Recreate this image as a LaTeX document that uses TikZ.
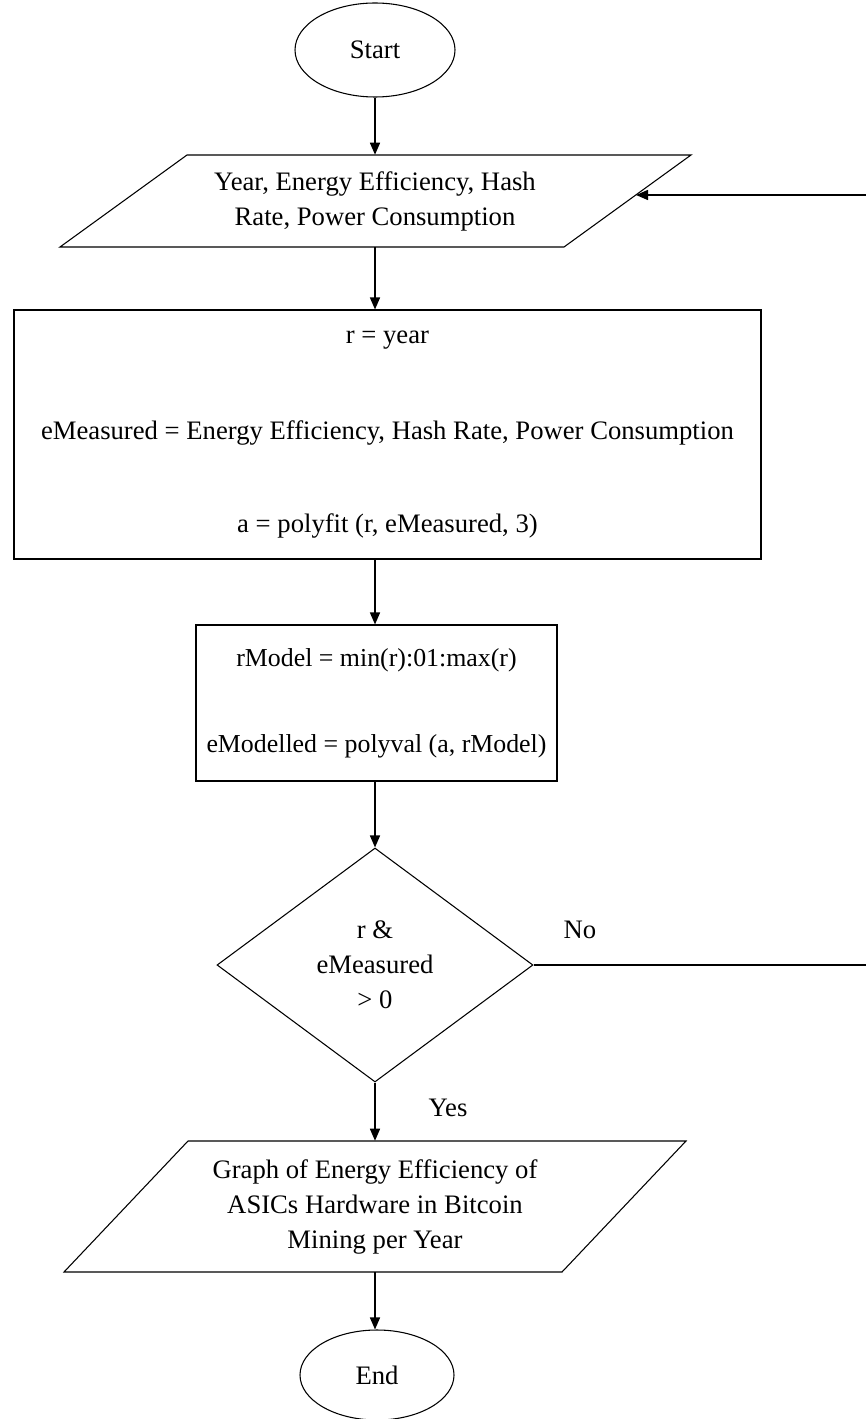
\documentclass[tikz,border=0pt]{standalone}
\usepackage{fontspec}
\setmainfont{Liberation Serif}
\usetikzlibrary{shapes.geometric,arrows.meta,calc}
\begin{document}
\begin{tikzpicture}[x=0.75pt,y=-0.75pt,
  every node/.style={font=\fontsize{20}{26.25}\selectfont, inner sep=0pt},
  shapeline/.style={draw, line width=0.8pt},
  flow/.style={line width=1.1pt, -{Triangle[length=9pt,width=7.5pt]}}]
\useasboundingbox (0,0) rectangle (866,1419);

% Start
\node[shapeline, ellipse, minimum width=120pt, minimum height=70.5pt] (start) at (375,50) {Start};

% Input parallelogram
\node[align=center, minimum height=69pt] (in1) at (375,201) {Year, Energy Efficiency, Hash\\Rate, Power Consumption};
\draw[shapeline] (187,155) -- (691,155) -- (564,247) -- (60,247) -- cycle;

% Process box 1
\node[shapeline, align=center, minimum width=560.25pt, minimum height=186.75pt] (box1) at (387.5,434.5)
  {r = year\\[46pt]eMeasured = Energy Efficiency, Hash Rate, Power Consumption\\[43.75pt]a = polyfit (r, eMeasured, 3)};

% Process box 2
\node[shapeline, align=center, minimum width=270.75pt, minimum height=117pt,
  font=\fontsize{19.4}{26.25}\selectfont] (box2) at (376.5,703)
  {rModel = min(r):01:max(r)\\[38.5pt]eModelled = polyval (a, rModel)};

% Decision
\node[shapeline, diamond, align=center, minimum width=237pt, minimum height=175.5pt] (dec) at (375,965)
  {r \&\\eMeasured\\{>} 0};

% Output parallelogram
\node[align=center, minimum height=98.25pt] (out) at (375,1206.5)
  {Graph of Energy Efficiency of\\ASICs Hardware in Bitcoin\\Mining per Year};
\draw[shapeline] (188,1141) -- (686,1141) -- (562,1272) -- (64,1272) -- cycle;

% End
\node[shapeline, ellipse, minimum width=115.5pt, minimum height=67.5pt] (end) at (377,1375) {End};

% Labels
\node (no) at (580,930) {No};
\node (yes) at (448,1108) {Yes};

% Loop coordinates
\coordinate (c1) at (870,965);
\coordinate (c2) at (870,195);
\coordinate (entry) at (636,195);

% Connectors
\draw[flow] (start) -- (in1);
\draw[flow] (in1.south) -- (in1.south |- box1.north);
\draw[flow] (in1.south |- box1.south) -- (in1.south |- box2.north);
\draw[flow] (dec.north |- box2.south) -- (dec.north);
\draw[flow] (dec.south) -- (out.north);
\draw[flow] (out.south) -- (out.south |- end.north);
\draw[flow] (dec.east) -- (c1) -- (c2) -- (entry);
\end{tikzpicture}
\end{document}
